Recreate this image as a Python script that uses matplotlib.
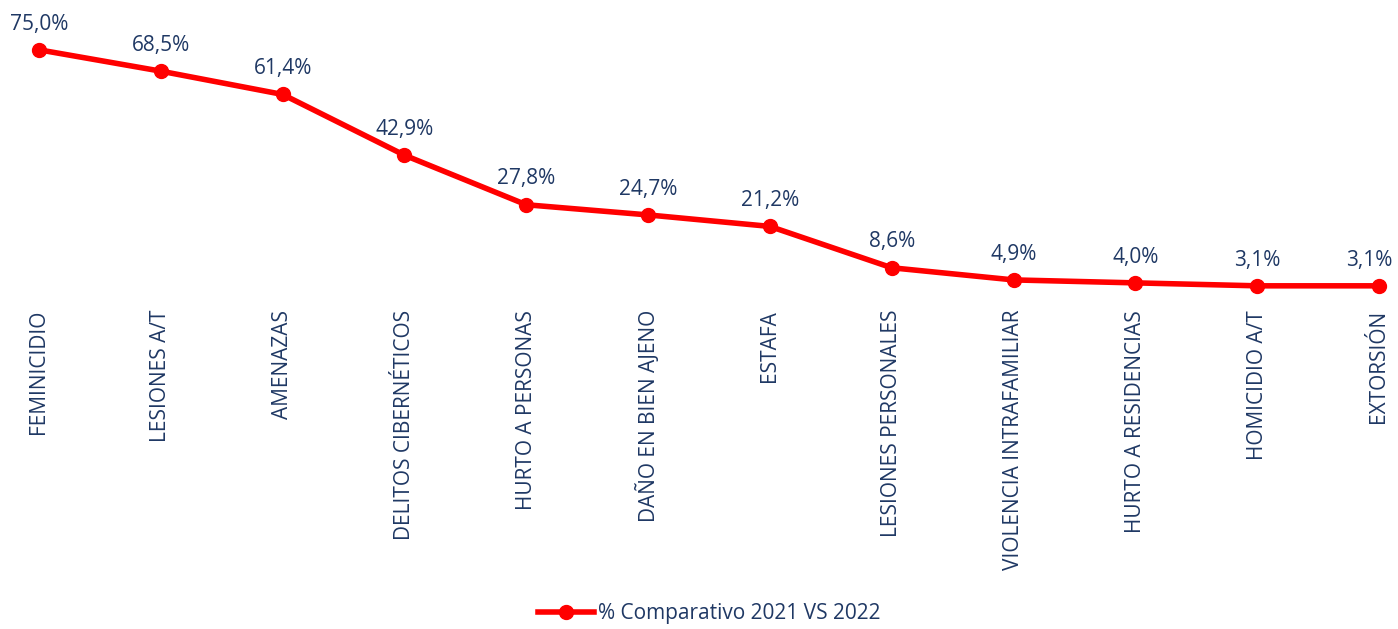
import matplotlib
matplotlib.use("Agg")
import matplotlib.pyplot as plt

categories = ["FEMINICIDIO", "LESIONES A/T", "AMENAZAS", "DELITOS CIBERNÉTICOS",
              "HURTO A PERSONAS", "DAÑO EN BIEN AJENO", "ESTAFA", "LESIONES PERSONALES",
              "VIOLENCIA INTRAFAMILIAR", "HURTO A RESIDENCIAS", "HOMICIDIO A/T", "EXTORSIÓN"]
values = [75.0, 68.5, 61.4, 42.9, 27.8, 24.7, 21.2, 8.6, 4.9, 4.0, 3.1, 3.1]
series_name = "% Comparativo 2021 VS 2022"

plt.rcParams['font.family'] = ['Open Sans', 'DejaVu Sans']
navy = '#1F3864'
red = '#FF0000'

fig = plt.figure(figsize=(13.98, 6.29), dpi=100)
ax = fig.add_axes([39/1398, 333/629, (1379-39)/1398, 262.6/629])
x = list(range(len(categories)))
line, = ax.plot(x, values, color=red, lw=4, marker='o', ms=10, clip_on=False,
                label=series_name, solid_joinstyle='round')
for xi, v in zip(x, values):
    dx = -7 if xi == len(categories) - 1 else 0
    ax.annotate(f"{v:.1f}".replace('.', ',') + "%", (xi, v), xytext=(dx, 11),
                textcoords='offset points', ha='center', va='bottom',
                color=navy, fontsize=15)
ax.set_xlim(0, len(categories) - 1)
ax.set_ylim(0, 80)
ax.set_xticks(x)
ax.set_xticklabels(categories, rotation=90, color=navy, fontsize=15)
ax.tick_params(axis='x', length=0, pad=10)
ax.set_yticks([])
for s in ax.spines.values():
    s.set_visible(False)

fig.legend(handles=[line], loc='center', bbox_to_anchor=(709/1398, 1 - 614/629),
           frameon=False, fontsize=15, labelcolor=navy, handlelength=2.7,
           handletextpad=0.2)
fig.savefig("out.png", dpi=100)
